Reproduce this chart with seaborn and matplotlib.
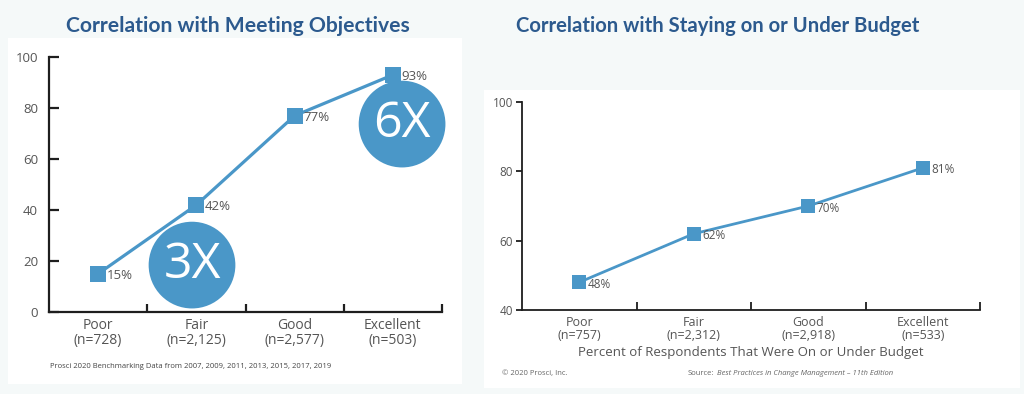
import matplotlib
matplotlib.use("Agg")
import matplotlib.pyplot as plt
import seaborn as sns
import pandas as pd
from matplotlib.patches import Rectangle

# data
ratings = ["Poor", "Fair", "Good", "Excellent"]
objectives_n = ["728", "2,125", "2,577", "503"]
objectives_pct = [15, 42, 77, 93]
budget_n = ["757", "2,312", "2,918", "533"]
budget_pct = [48, 62, 70, 81]
multipliers = ["3X", "6X"]

BLUE = "#4a97c8"
TITLE = "#2c5a8e"
GREY = "#555555"
INK = "#1e1e1e"

sns.set_style("ticks")
plt.rcParams["font.family"] = ["Open Sans", "DejaVu Sans"]

fig = plt.figure(figsize=(10.24, 3.94), dpi=100)
fig.patch.set_facecolor("#f5f9f9")

# white cards behind the two charts
fig.patches.append(Rectangle((0.0078, 0.0254), 0.4434, 0.878, transform=fig.transFigure,
                             facecolor="white", edgecolor="none", zorder=-1))
fig.patches.append(Rectangle((0.4727, 0.0152), 0.5234, 0.756, transform=fig.transFigure,
                             facecolor="white", edgecolor="none", zorder=-1))

fig.text(0.2324, 0.935, "Correlation with Meeting Objectives", ha="center", va="center",
         fontsize=15.2, fontweight="bold", color=TITLE, family=["Lato", "DejaVu Sans"])
fig.text(0.7005, 0.935, "Correlation with Staying on or Under Budget", ha="center", va="center",
         fontsize=14.6, fontweight="bold", color=TITLE, family=["Lato", "DejaVu Sans"])


def draw_panel(ax, pct, ns, ylim, yticks, msize, lw, spine_w, fs, ydir, ylen, ypad):
    df = pd.DataFrame({"rating": ratings, "pct": pct})
    sns.lineplot(data=df, x="rating", y="pct", ax=ax, color=BLUE, linewidth=lw,
                 marker="s", markersize=msize, markeredgewidth=0, sort=False, zorder=3)
    ax.set_facecolor("none")
    ax.set_xlim(-0.5, 3.5)
    ax.set_ylim(*ylim)
    ax.set_yticks(yticks)
    ax.set_xticks(range(4))
    ax.set_xticklabels([f"{r}\n(n={n})" for r, n in zip(ratings, ns)], linespacing=1.05)
    ax.set_xticks([0.5, 1.5, 2.5, 3.5], minor=True)
    ax.tick_params(axis="x", which="major", length=0, pad=4, labelsize=fs, labelcolor=GREY)
    ax.tick_params(axis="x", which="minor", direction="in", length=5.5, width=spine_w,
                   color=INK)
    ax.tick_params(axis="y", which="major", direction=ydir, length=ylen, pad=ypad,
                   labelsize=fs - 0.5, labelcolor=GREY, width=spine_w, color=INK)
    ax.set_xlabel("")
    ax.set_ylabel("")
    for side in ["top", "right"]:
        ax.spines[side].set_visible(False)
    for side in ["left", "bottom"]:
        ax.spines[side].set_color(INK)
        ax.spines[side].set_linewidth(spine_w)
    for i, v in enumerate(pct):
        ax.annotate(f"{v}%", (i, v), xytext=(6, -1.5), textcoords="offset points",
                    ha="left", va="center", fontsize=fs - 0.5, color=GREY, zorder=4)


# left chart
ax1 = fig.add_axes([0.0479, 0.2081, 0.3838, 0.6472])
draw_panel(ax1, objectives_pct, objectives_n, (0, 100), range(0, 101, 20), 11.5, 2.3, 1.6, 10,
           "in", 7, 8)

# multiplier bubbles
for (cx, cy), label in zip([(0.955, 18.4), (3.093, 73.7)], multipliers):
    ax1.scatter([cx], [cy], s=3900, color=BLUE, edgecolor="none", zorder=5, clip_on=False)
    ax1.text(cx, cy, label, ha="center", va="center", fontsize=36, color="white", zorder=6)

fig.text(0.0488, 0.071, "Prosci 2020 Benchmarking Data from 2007, 2009, 2011, 2013, 2015, 2017, 2019",
         fontsize=5.5, color="#444444", ha="left", va="center")

# right chart
ax2 = fig.add_axes([0.5098, 0.2132, 0.4473, 0.5279])
draw_panel(ax2, budget_pct, budget_n, (40, 100), range(40, 101, 20), 10.5, 2.0, 1.3, 9,
           "out", 4.5, 2)
ax2.set_xlabel("Percent of Respondents That Were On or Under Budget", fontsize=9.5,
               color=GREY, labelpad=3)

fig.text(0.490, 0.053, "\u00a9 2020 Prosci, Inc.", fontsize=5.5, color="#666666",
         ha="left", va="center")
fig.text(0.671, 0.053, "Source:", fontsize=5.5, color="#666666", ha="left", va="center")
fig.text(0.7005, 0.053, "Best Practices in Change Management \u2013 11th Edition", fontsize=5.5,
         color="#666666", ha="left", va="center", style="italic")

fig.savefig("out.png", dpi=100, facecolor=fig.get_facecolor())
